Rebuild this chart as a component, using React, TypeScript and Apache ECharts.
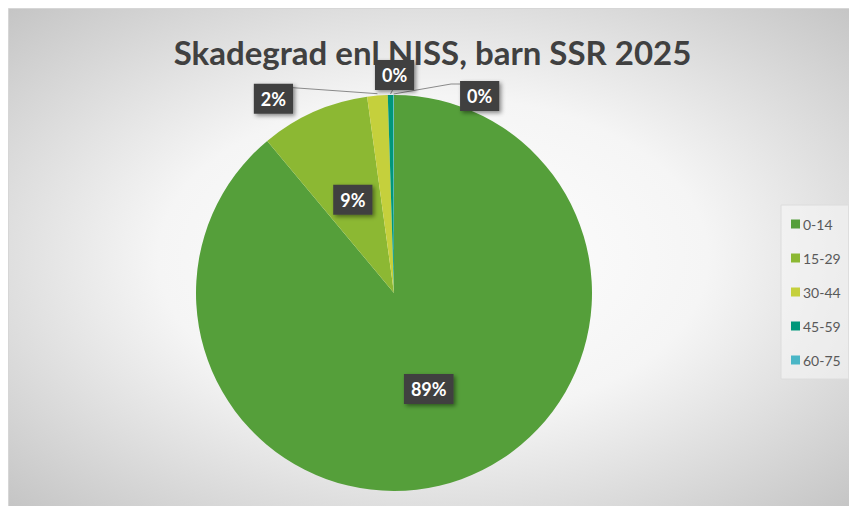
import React, { useEffect, useRef } from 'react';
import * as echarts from 'echarts';

const titleText = 'Skadegrad enl NISS, barn SSR 2025';
const categories = ['0-14', '15-29', '30-44', '45-59', '60-75'];
const values = [1600, 160, 30, 8, 1];
const sliceColors = ['#559f3a', '#8cb833', '#c5d03c', '#00977a', '#4ab6c6'];

const W = 849;
const H = 498;
const CX = 386;
const CY = 285;
const R = 198;

// label offsets (relative to the slice's edge point) for the small outside labels
const outsideOffsets: Record<number, [number, number]> = {
  2: [-104, 3],
  3: [4, -20],
  4: [86, 1],
};

export default function App() {
  const ref = useRef<HTMLDivElement>(null);

  useEffect(() => {
    if (!ref.current) return;
    const chart = echarts.init(ref.current, null, { renderer: 'svg' });
    const total = values.reduce((a, b) => a + b, 0);
    const edgePoint = (i: number): [number, number] => {
      let before = 0;
      for (let k = 0; k < i; k++) before += values[k];
      const frac = (before + values[i] / 2) / total;
      const a = frac * Math.PI * 2;
      return [CX + R * Math.sin(a), CY - R * Math.cos(a)];
    };

    const labelStyle = {
      color: '#ffffff',
      fontFamily: 'Lato',
      fontWeight: 'bold' as const,
      fontSize: 18,
      lineHeight: 18,
      backgroundColor: '#404040',
      padding: [6, 7, 6, 7],
      shadowColor: 'rgba(0,0,0,0.45)',
      shadowBlur: 4,
      shadowOffsetX: 2,
      shadowOffsetY: 2,
    };

    chart.setOption({
      animation: false,
      graphic: [
        {
          type: 'rect',
          left: 0,
          top: 0,
          z: -10,
          silent: true,
          shape: { width: W, height: H },
          style: {
            fill: new echarts.graphic.RadialGradient(0.5, 0.5, 0.72, [
              { offset: 0, color: '#ffffff' },
              { offset: 0.45, color: '#f5f5f5' },
              { offset: 1, color: '#c3c3c3' },
            ]),
            stroke: '#d6d6d6',
            lineWidth: 1,
          },
        },
      ],
      title: {
        text: titleText,
        left: 'center',
        top: 22,
        textStyle: {
          fontFamily: 'Lato',
          fontWeight: 'bold',
          fontSize: 33,
          color: '#404040',
        },
      },
      legend: {
        orient: 'vertical',
        left: 773,
        top: 197,
        data: categories,
        icon: 'rect',
        itemWidth: 9,
        itemHeight: 9,
        itemGap: 20,
        padding: [12, 8, 12, 10],
        backgroundColor: 'rgba(248,248,248,0.55)',
        borderColor: '#dcdcdc',
        borderWidth: 1,
        textStyle: {
          fontFamily: 'Lato',
          fontSize: 14,
          color: '#595959',
          padding: [0, 0, 0, -2],
        },
      },
      series: [
        {
          type: 'pie',
          center: [CX, CY],
          radius: R,
          startAngle: 90,
          clockwise: true,
          avoidLabelOverlap: false,
          emphasis: { disabled: true },
          itemStyle: { borderWidth: 0 },
          label: {
            show: true,
            position: 'inside',
            formatter: (p: any) => Math.round(p.percent) + '%',
            ...labelStyle,
          },
          labelLine: { show: false },
          labelLayout: (params: any) => {
            const i = params.dataIndex;
            if (!(i in outsideOffsets)) return {};
            const [ex, ey] = edgePoint(i);
            const [dx, dy] = outsideOffsets[i];
            const lx = ex + dx;
            const ly = ey + dy;
            const w = params.labelRect ? params.labelRect.width : 38;
            const h = params.labelRect ? params.labelRect.height : 30;
            let pts: number[][];
            if (i === 2) {
              pts = [[ex, ey - 2], [lx + w / 2, ly - 11], [lx + w / 2, ly - 11]];
            } else if (i === 3) {
              pts = [[ex, ey - 1], [lx - 2, ly + h / 2], [lx - 2, ly + h / 2]];
            } else {
              pts = [[ex, ey - 1], [lx - w / 2 - 9, ly - 12], [lx - w / 2, ly - 12]];
            }
            return {
              x: lx,
              y: ly,
              align: 'center',
              verticalAlign: 'middle',
              labelLinePoints: pts,
            };
          },
          data: categories.map((name, i) => ({
            name,
            value: values[i],
            itemStyle: { color: sliceColors[i] },
            ...(i >= 2
              ? {
                  label: { position: 'outside' },
                  labelLine: {
                    show: true,
                    length: 6,
                    length2: 6,
                    lineStyle: { color: '#8a8a8a', width: 1 },
                  },
                }
              : {}),
          })),
        },
      ],
    });

    return () => chart.dispose();
  }, []);

  return <div ref={ref} style={{ width: W, height: H }} />;
}
